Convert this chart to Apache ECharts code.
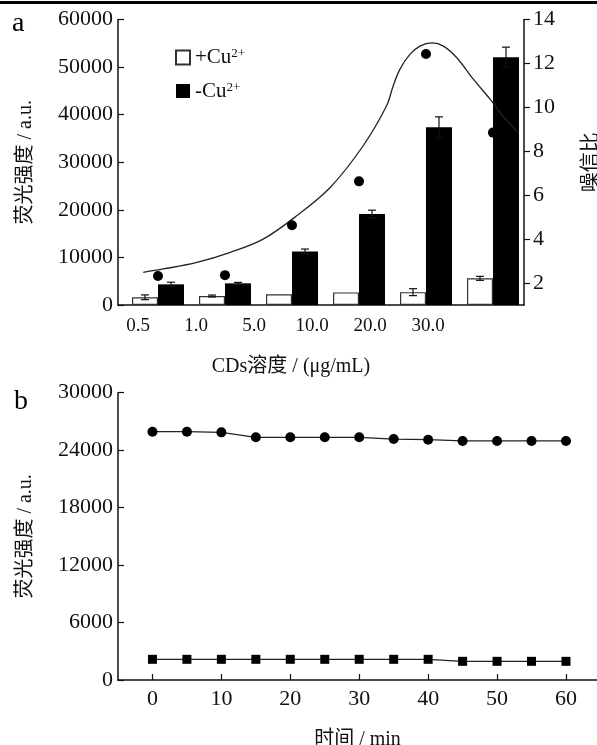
<!DOCTYPE html>
<html>
<head>
<meta charset="utf-8">
<script src="https://cdn.jsdelivr.net/npm/echarts@6/dist/echarts.min.js"></script>
<style>
  html, body { margin: 0; padding: 0; background: #fff; }
  #chart { width: 597px; height: 745px; }
</style>
</head>
<body>
<div id="chart"></div>
<script>
// panel a: CDs concentration
const concLabels = ['0.5', '1.0', '5.0', '10.0', '20.0', '30.0'];
const withCu = [1620, 1890, 2250, 2650, 2700, 5600];
const withCuErr = [500, 200, 0, 0, 730, 420];
const withoutCu = [4340, 4550, 11260, 19130, 37340, 52090];
const withoutCuErr = [450, 200, 500, 800, 2200, 2100];
const snrDots = [2.32, 2.36, 4.63, 6.63, 12.43, 8.85];
// fitted S/N curve (x in category index units)
const snrCurveX = [-0.22, 0.08, 0.58, 1.08, 1.57, 2.07, 2.57, 3.06, 3.41, 3.51, 3.61, 3.76, 3.91, 4.09, 4.26, 4.46, 4.71, 4.96, 5.15, 5.38];
const snrCurveY = [2.49, 2.64, 2.94, 3.40, 4.00, 5.06, 6.35, 8.24, 10.06, 10.97, 11.73, 12.41, 12.79, 12.94, 12.79, 12.26, 11.27, 10.36, 9.60, 8.85];
const snrTicks = [2, 4, 6, 8, 10, 12, 14];

// panel b: stability over time
const timeMin = [0, 5, 10, 15, 20, 25, 30, 35, 40, 45, 50, 55, 60];
const timeTicks = [0, 10, 20, 30, 40, 50, 60];
const circleVals = [25930, 25930, 25860, 25340, 25340, 25340, 25340, 25160, 25090, 24960, 24960, 24960, 24960];
const squareVals = [2160, 2160, 2160, 2160, 2160, 2160, 2160, 2160, 2160, 1950, 1950, 1950, 1950];

const FONT = '"Liberation Serif", "Times New Roman", "Noto Sans CJK SC", serif';
const INK = '#111';

const chart = echarts.init(document.getElementById('chart'));

function errorSeries(vals, errs, dx) {
  return {
    type: 'custom',
    xAxisIndex: 3,
    yAxisIndex: 4,
    z: 5,
    data: vals.map((v, i) => [i, v - errs[i], v + errs[i]]),
    renderItem: function (params, api) {
      const x = api.value(0);
      const lo = api.coord([x, api.value(1)]);
      const hi = api.coord([x, api.value(2)]);
      if (Math.abs(hi[1] - lo[1]) < 0.5) return null;
      const cx = lo[0] + dx;
      const st = { stroke: INK, lineWidth: 1.2 };
      return {
        type: 'group',
        children: [
          { type: 'line', shape: { x1: cx, y1: lo[1], x2: cx, y2: hi[1] }, style: st },
          { type: 'line', shape: { x1: cx - 4, y1: lo[1], x2: cx + 4, y2: lo[1] }, style: st },
          { type: 'line', shape: { x1: cx - 4, y1: hi[1], x2: cx + 4, y2: hi[1] }, style: st }
        ]
      };
    }
  };
}

const axisLine = { show: true, onZero: false, lineStyle: { color: INK, width: 1.5 } };
const tickLabel = { color: INK, fontFamily: FONT, fontSize: 22, formatter: v => String(v) };
const nameStyle = { color: INK, fontFamily: FONT, fontSize: 20 };

chart.setOption({
  animation: false,
  textStyle: { fontFamily: FONT },
  graphic: [
    { type: 'rect', shape: { x: 0, y: 1, width: 597, height: 3 }, style: { fill: '#000' } },
    { type: 'text', left: 12, top: 10, style: { text: 'a', fontFamily: FONT, fontSize: 28, fill: '#000' } },
    { type: 'text', left: 14, top: 388, style: { text: 'b', fontFamily: FONT, fontSize: 28, fill: '#000' } }
  ],
  legend: {
    data: ['+Cu2+', '-Cu2+'],
    orient: 'vertical',
    left: 170,
    top: 42,
    itemWidth: 14,
    itemHeight: 14,
    itemGap: 12,
    icon: 'rect',
    formatter: name => '{b|' + name.slice(0, -2) + '}{s|2+}',
    textStyle: {
      color: INK,
      rich: {
        b: { fontFamily: FONT, fontSize: 21, color: INK, lineHeight: 20 },
        s: { fontFamily: FONT, fontSize: 13, color: INK, verticalAlign: 'top', lineHeight: 20, padding: [0, 0, 8, 0] }
      }
    }
  },
  grid: [
    { left: 118, right: 73, top: 19.5, bottom: 440, outerBoundsMode: 'none' },
    { left: 109, width: 348, top: 19.5, bottom: 440, outerBoundsMode: 'none' },
    { left: 118, right: 0, top: 392.7, bottom: 65, outerBoundsMode: 'none' },
    { left: 124.5, width: 402, top: 19.5, bottom: 440, outerBoundsMode: 'none' }
  ],
  xAxis: [
    {
      gridIndex: 0, type: 'value', min: -0.597, max: 5.463,
      axisLine: axisLine, axisTick: { show: false }, axisLabel: { show: false }, splitLine: { show: false }
    },
    {
      gridIndex: 1, type: 'category', data: concLabels,
      axisLine: { show: false }, axisTick: { show: false },
      axisLabel: { color: INK, fontFamily: FONT, fontSize: 19, margin: 12 },
      name: 'CDs溶度 / (μg/mL)', nameLocation: 'middle', nameGap: 52,
      nameTextStyle: Object.assign({}, nameStyle, { padding: [0, 0, 0, 16] })
    },
    {
      gridIndex: 2, type: 'value', min: -5, max: 64.5,
      axisLine: axisLine,
      axisTick: { show: true, inside: true, length: 6, customValues: timeTicks, lineStyle: { color: INK, width: 1.2 } },
      axisLabel: Object.assign({}, tickLabel, { customValues: timeTicks, margin: 8 }),
      splitLine: { show: false },
      name: '时间 / min', nameLocation: 'middle', nameGap: 50, nameTextStyle: nameStyle
    },
    {
      gridIndex: 3, type: 'category', data: concLabels, show: false
    }
  ],
  yAxis: [
    {
      gridIndex: 0, type: 'value', min: 0, max: 60000, interval: 10000,
      axisLine: axisLine,
      axisTick: { show: true, inside: true, length: 6, lineStyle: { color: INK, width: 1.2 } },
      axisLabel: Object.assign({}, tickLabel, { margin: 5 }),
      splitLine: { show: false },
      name: '荧光强度 / a.u.', nameLocation: 'middle', nameRotate: 90, nameGap: 82, nameTextStyle: nameStyle
    },
    {
      gridIndex: 0, type: 'value', position: 'right', min: 1, max: 14,
      axisLine: axisLine,
      axisTick: { show: true, inside: false, length: 6, customValues: snrTicks, lineStyle: { color: INK, width: 1.2 } },
      axisLabel: Object.assign({}, tickLabel, { customValues: snrTicks, margin: 9 }),
      splitLine: { show: false },
      name: '噪信比', nameLocation: 'middle', nameRotate: 90, nameGap: 58, nameTextStyle: nameStyle
    },
    { gridIndex: 1, type: 'value', show: false },
    {
      gridIndex: 2, type: 'value', min: 0, max: 30000, interval: 6000,
      axisLine: axisLine,
      axisTick: { show: true, inside: true, length: 6, lineStyle: { color: INK, width: 1.2 } },
      axisLabel: Object.assign({}, tickLabel, { margin: 5 }),
      splitLine: { show: false },
      name: '荧光强度 / a.u.', nameLocation: 'middle', nameRotate: 90, nameGap: 82, nameTextStyle: nameStyle
    },
    { gridIndex: 3, type: 'value', min: 0, max: 60000, show: false }
  ],
  series: [
    {
      name: '+Cu2+', type: 'bar', xAxisIndex: 3, yAxisIndex: 4,
      barWidth: 26, barGap: '0%',
      itemStyle: { color: '#fff', borderColor: '#333', borderWidth: 1.2 },
      data: withCu
    },
    {
      name: '-Cu2+', type: 'bar', xAxisIndex: 3, yAxisIndex: 4,
      barWidth: 26, barGap: '0%',
      itemStyle: { color: '#000' },
      data: withoutCu
    },
    errorSeries(withCu, withCuErr, -13),
    errorSeries(withoutCu, withoutCuErr, 13),
    {
      type: 'line', xAxisIndex: 0, yAxisIndex: 1, smooth: 0.35, showSymbol: false, z: 6,
      lineStyle: { color: '#222', width: 1.3 },
      data: snrCurveX.map((x, i) => [x, snrCurveY[i]])
    },
    {
      type: 'scatter', xAxisIndex: 0, yAxisIndex: 1, symbol: 'circle', symbolSize: 10, z: 7,
      itemStyle: { color: '#000', opacity: 1 },
      data: snrDots.map((v, i) => [i, v])
    },
    {
      type: 'line', xAxisIndex: 2, yAxisIndex: 3, symbol: 'circle', symbolSize: 10,
      lineStyle: { color: '#222', width: 1.2 }, itemStyle: { color: '#000' },
      data: timeMin.map((t, i) => [t, circleVals[i]])
    },
    {
      type: 'line', xAxisIndex: 2, yAxisIndex: 3, symbol: 'rect', symbolSize: 9,
      lineStyle: { color: '#222', width: 1.2 }, itemStyle: { color: '#000' },
      data: timeMin.map((t, i) => [t, squareVals[i]])
    }
  ]
});
</script>
</body>
</html>
